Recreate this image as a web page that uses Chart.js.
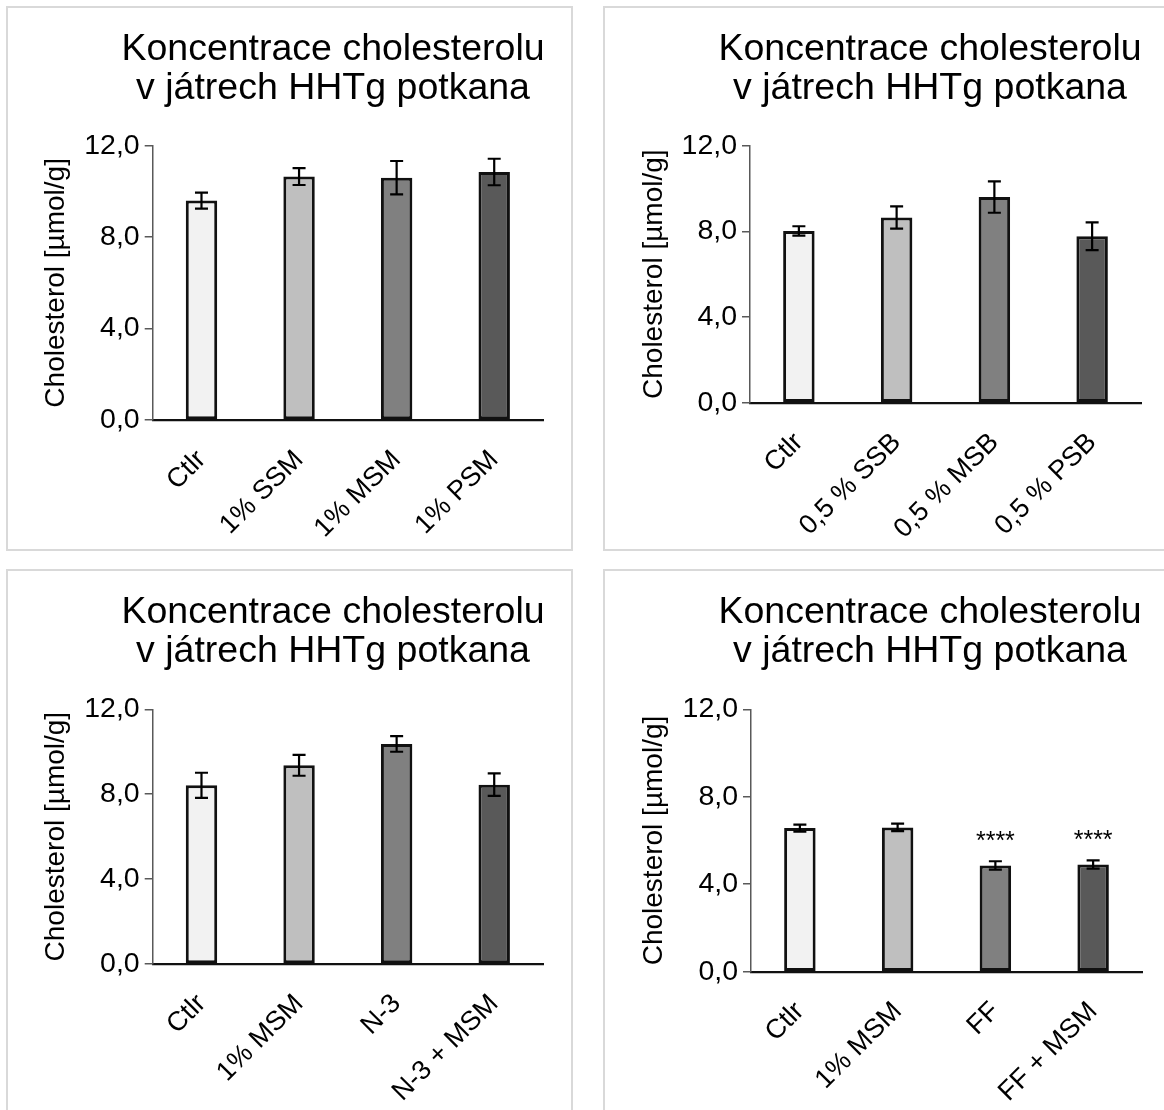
<!DOCTYPE html>
<html>
<head>
<meta charset="utf-8">
<script src="https://cdn.jsdelivr.net/npm/chart.js@4.4.1/dist/chart.umd.min.js"></script>
<style>
  html, body { margin: 0; padding: 0; background: #fff; }
  body { width: 1164px; height: 1110px; position: relative; overflow: hidden; }
  .panel { position: absolute; border: 2px solid #d9d9d9; background: #fff; }
  .panel canvas { display: block; }
</style>
</head>
<body>
<div class="panel" style="left:6px; top:6px;"><canvas id="c1" width="563" height="541"></canvas></div>
<div class="panel" style="left:603px; top:6px;"><canvas id="c2" width="563" height="541"></canvas></div>
<div class="panel" style="left:6px; top:569px;"><canvas id="c3" width="563" height="541"></canvas></div>
<div class="panel" style="left:603px; top:569px;"><canvas id="c4" width="563" height="541"></canvas></div>
<script>
// Shared text
const titleLines = ['Koncentrace cholesterolu', 'v játrech HHTg potkana'];
const yAxisTitle = 'Cholesterol [µmol/g]';
const yTicks = [0, 4, 8, 12];

// Panel 1: seaweed meal 1 %
const categoriesA = ['Ctlr', '1% SSM', '1% MSM', '1% PSM'];
const valuesA = [9.60, 10.65, 10.60, 10.85];
const errorsA = [0.35, 0.37, 0.73, 0.58];

// Panel 2: 0,5 % supplements
const categoriesB = ['Ctlr', '0,5 % SSB', '0,5 % MSB', '0,5 % PSB'];
const valuesB = [8.02, 8.65, 9.60, 7.77];
const errorsB = [0.22, 0.52, 0.73, 0.65];

// Panel 3: N-3 combination
const categoriesC = ['Ctlr', '1% MSM', 'N-3', 'N-3 + MSM'];
const valuesC = [8.42, 9.36, 10.37, 8.45];
const errorsC = [0.59, 0.49, 0.37, 0.53];

// Panel 4: fenofibrate combination
const categoriesD = ['Ctlr', '1% MSM', 'FF', 'FF + MSM'];
const valuesD = [6.57, 6.60, 4.86, 4.90];
const errorsD = [0.16, 0.17, 0.19, 0.19];
const significanceD = ['', '', '****', '****'];

const barColors = ['#f2f2f2', '#bfbfbf', '#808080', '#595959'];

const FONT = "'Liberation Sans', Arial, Helvetica, sans-serif";
Chart.defaults.font.family = FONT;
Chart.defaults.color = '#000';

// Two-line heading drawn above the plot
const headingPlugin = {
  id: 'heading',
  afterDraw(chart, args, opts) {
    const ctx = chart.ctx;
    ctx.save();
    ctx.fillStyle = '#000';
    ctx.font = `37.5px ${FONT}`;
    ctx.textAlign = 'center';
    ctx.textBaseline = 'alphabetic';
    opts.lines.forEach((line, i) => ctx.fillText(line, opts.x, opts.y + i * opts.lineGap));
    ctx.restore();
  }
};

// Error bars (mean ± SEM) and significance marks
const errorBarPlugin = {
  id: 'errorBars',
  afterDatasetsDraw(chart, args, opts) {
    const ctx = chart.ctx;
    const y = chart.scales.y;
    const meta = chart.getDatasetMeta(0);
    const vals = chart.data.datasets[0].data;
    ctx.save();
    ctx.strokeStyle = '#000';
    ctx.lineWidth = 2.2;
    meta.data.forEach((bar, i) => {
      const top = y.getPixelForValue(vals[i] + opts.errors[i]);
      const bot = y.getPixelForValue(vals[i] - opts.errors[i]);
      const x = bar.x;
      ctx.beginPath();
      ctx.moveTo(x, top); ctx.lineTo(x, bot);
      ctx.moveTo(x - 6.5, top); ctx.lineTo(x + 6.5, top);
      ctx.moveTo(x - 6.5, bot); ctx.lineTo(x + 6.5, bot);
      ctx.stroke();
      const mark = opts.marks ? opts.marks[i] : '';
      if (mark) {
        ctx.fillStyle = '#000';
        ctx.font = `25px ${FONT}`;
        ctx.textAlign = 'center';
        ctx.textBaseline = 'alphabetic';
        ctx.fillText(mark, x, top - 12);
      }
    });
    ctx.restore();
  }
};

function makeChart(id, labels, values, errors, layout, marks) {
  return new Chart(document.getElementById(id), {
    type: 'bar',
    data: {
      labels: labels,
      datasets: [{
        data: values,
        backgroundColor: barColors,
        borderColor: '#111',
        borderWidth: 3,
        borderSkipped: false,
        categoryPercentage: 1,
        barPercentage: 0.322
      }]
    },
    options: {
      responsive: false,
      animation: false,
      devicePixelRatio: 1,
      layout: { padding: { top: layout.top, right: layout.right, bottom: 0, left: 0 } },
      plugins: {
        legend: { display: false },
        tooltip: { enabled: false },
        heading: { lines: titleLines, x: 325, y: 52, lineGap: 39 },
        errorBars: { errors: errors, marks: marks }
      },
      scales: {
        x: {
          grid: { display: false, drawTicks: false },
          border: { display: true, color: '#111', width: 2.2 },
          ticks: {
            autoSkip: false,
            minRotation: 45,
            maxRotation: 45,
            padding: 24,
            color: '#000',
            font: { size: 27 }
          },
          afterFit(scale) { scale.height = layout.xHeight; }
        },
        y: {
          min: 0,
          max: 12,
          afterBuildTicks(scale) { scale.ticks = yTicks.map(v => ({ value: v })); },
          grid: { drawOnChartArea: false, drawTicks: true, tickLength: 8, color: '#595959', lineWidth: 1.5 },
          border: { display: true, color: '#595959', width: 1.5 },
          ticks: {
            padding: 5,
            color: '#000',
            font: { size: 28.5 },
            callback: v => v.toFixed(1).replace('.', ',')
          },
          title: {
            display: true,
            text: yAxisTitle,
            color: '#000',
            font: { size: 28 },
            padding: { top: layout.titlePad, bottom: 0 }
          },
          afterFit(scale) { scale.width = layout.yWidth; }
        }
      }
    },
    plugins: [headingPlugin, errorBarPlugin]
  });
}

makeChart('c1', categoriesA, valuesA, errorsA, { top: 137.7, right: 28, xHeight: 129, yWidth: 144.7, titlePad: 31 });
makeChart('c2', categoriesB, valuesB, errorsB, { top: 137.7, right: 27, xHeight: 146.3, yWidth: 145, titlePad: 32 });
makeChart('c3', categoriesC, valuesC, errorsC, { top: 138.3, right: 28, xHeight: 148, yWidth: 144.7, titlePad: 31 });
makeChart('c4', categoriesD, valuesD, errorsD, { top: 138.3, right: 26, xHeight: 140.3, yWidth: 146, titlePad: 32 }, significanceD);
</script>
</body>
</html>
